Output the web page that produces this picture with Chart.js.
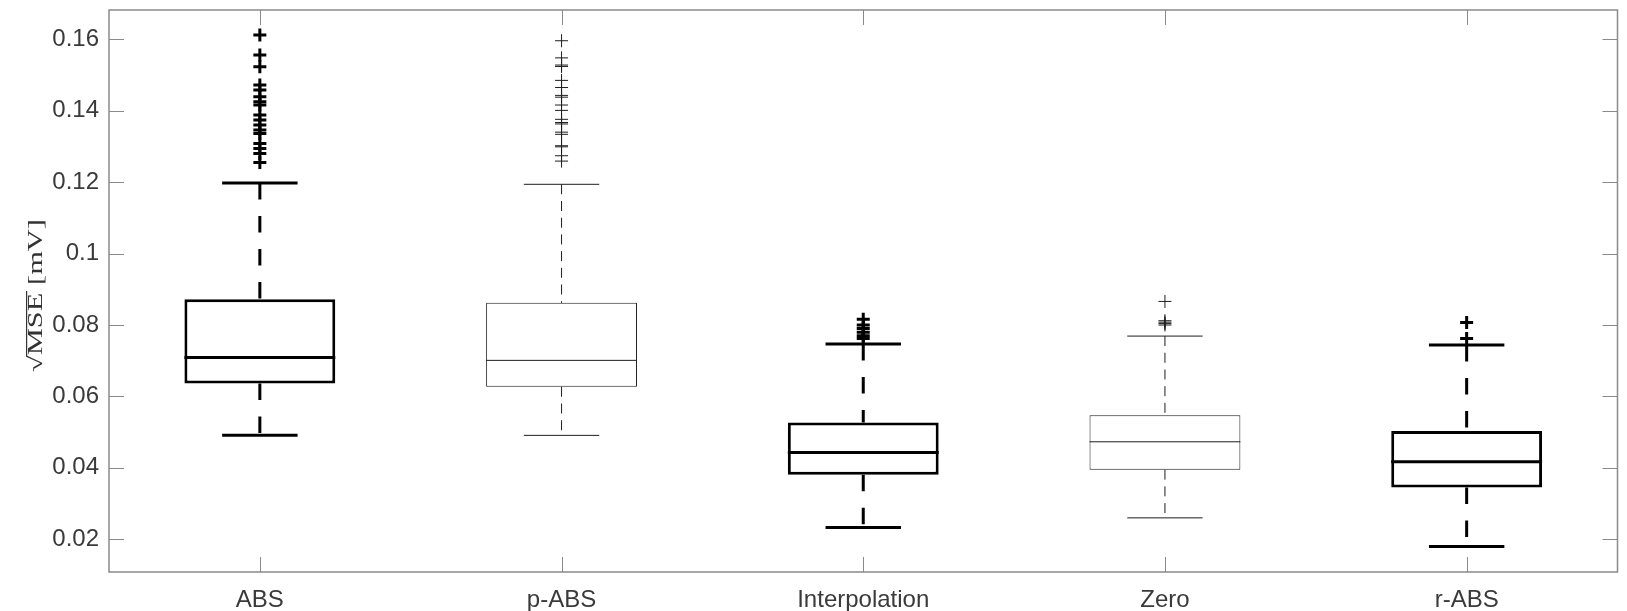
<!DOCTYPE html>
<html>
<head>
<meta charset="utf-8">
<script src="https://cdn.jsdelivr.net/npm/chart.js@4/dist/chart.umd.min.js"></script>
<style>
  html, body { margin: 0; padding: 0; background: #fff; overflow: hidden; }
  canvas { display: block; }
</style>
</head>
<body>
<canvas id="chart" width="1627" height="611"></canvas>
<script>
// Reconstruction methods compared by their RMS error
const categories = ['ABS', 'p-ABS', 'Interpolation', 'Zero', 'r-ABS'];

// Box statistics per method
const q1          = [0.0636, 0.0627, 0.0381, 0.0395, 0.0345];
const medians     = [0.0709, 0.0701, 0.0443, 0.0473, 0.0417];
const q3          = [0.0872, 0.0862, 0.0527, 0.0547, 0.0503];
const whiskerLow  = [0.0491, 0.0491, 0.0233, 0.0260, 0.0180];
const whiskerHigh = [0.1198, 0.1194, 0.0747, 0.0769, 0.0744];

// Which methods are drawn with the heavy line style
const heavy = [true, false, true, false, true];

// Outliers beyond the whiskers
const outliersABS = [0.1612, 0.1556, 0.1523, 0.1472, 0.1458, 0.1439, 0.1425, 0.1416,
                     0.1388, 0.1374, 0.1360, 0.1346, 0.1336, 0.1308, 0.1294, 0.1280, 0.1255];
const outliersPABS = [0.1596, 0.1548, 0.1528, 0.1524, 0.1485, 0.1465, 0.1443, 0.1438,
                      0.1416, 0.1401, 0.1376, 0.1367, 0.1363, 0.1340, 0.1334, 0.1302,
                      0.1299, 0.1274, 0.1259];
const outliersInterpolation = [0.0816, 0.0800, 0.0790, 0.0780, 0.0770, 0.0762];
const outliersZero = [0.0866, 0.0812, 0.0808, 0.0804, 0.0800];
const outliersRABS = [0.0807, 0.0762];

// Value axis
const yMin = 0.01084;
const yMax = 0.16821;
const yTicks = [0.02, 0.04, 0.06, 0.08, 0.1, 0.12, 0.14, 0.16];
const yTickLabels = ['0.02', '0.04', '0.06', '0.08', '0.1', '0.12', '0.14', '0.16'];

const toPoints = (label, values) => values.map(v => ({ x: label, y: v }));
const heavyOutliers = [
  ...toPoints(categories[0], outliersABS),
  ...toPoints(categories[2], outliersInterpolation),
  ...toPoints(categories[4], outliersRABS)
];
const lightOutliers = [
  ...toPoints(categories[1], outliersPABS),
  ...toPoints(categories[3], outliersZero)
];

const HEAVY_COLOR = '#000000';
const LIGHT_COLOR = '#1e1e1e';
const AXIS_COLOR = '#8a8a8a';
const TEXT_COLOR = '#3a3a3a';
const SANS = '"Liberation Sans", Arial, Helvetica, sans-serif';

function segment(ctx, x1, y1, x2, y2) {
  ctx.beginPath();
  ctx.moveTo(x1, y1);
  ctx.lineTo(x2, y2);
  ctx.stroke();
}

// Whiskers, caps and median lines of each box
const boxParts = {
  id: 'boxParts',
  beforeDatasetsDraw(chart) {
    const { ctx, scales: { x, y } } = chart;
    const step = x.getPixelForValue(1) - x.getPixelForValue(0);
    const capHalf = step * 0.125;
    categories.forEach((c, i) => {
      const cx = x.getPixelForValue(i);
      ctx.save();
      ctx.strokeStyle = heavy[i] ? HEAVY_COLOR : LIGHT_COLOR;
      ctx.lineWidth = heavy[i] ? 3 : 1;
      ctx.setLineDash(heavy[i] ? [16.5, 16.5] : [10, 6.7]);
      segment(ctx, cx, y.getPixelForValue(whiskerHigh[i]), cx, y.getPixelForValue(q3[i]));
      segment(ctx, cx, y.getPixelForValue(q1[i]), cx, y.getPixelForValue(whiskerLow[i]));
      ctx.setLineDash([]);
      const yh = y.getPixelForValue(whiskerHigh[i]);
      const yl = y.getPixelForValue(whiskerLow[i]);
      segment(ctx, cx - capHalf, yh, cx + capHalf, yh);
      segment(ctx, cx - capHalf, yl, cx + capHalf, yl);
      ctx.restore();
    });
  },
  afterDatasetsDraw(chart) {
    const { ctx, scales: { x, y } } = chart;
    const step = x.getPixelForValue(1) - x.getPixelForValue(0);
    const boxHalf = step * 0.25;
    categories.forEach((c, i) => {
      const cx = x.getPixelForValue(i);
      const ym = y.getPixelForValue(medians[i]);
      ctx.save();
      ctx.strokeStyle = heavy[i] ? HEAVY_COLOR : LIGHT_COLOR;
      ctx.lineWidth = heavy[i] ? 3 : 1;
      segment(ctx, cx - boxHalf, ym, cx + boxHalf, ym);
      ctx.restore();
    });
  }
};

// Axes box with inward tick marks on all four sides
const axesFrame = {
  id: 'axesFrame',
  afterDraw(chart) {
    const { ctx, chartArea: { left, right, top, bottom }, scales: { x, y } } = chart;
    const len = 15;
    ctx.save();
    ctx.strokeStyle = AXIS_COLOR;
    ctx.lineWidth = 1.5;
    ctx.strokeRect(left, top, right - left, bottom - top);
    ctx.lineWidth = 1;
    y.ticks.forEach((t, i) => {
      const py = Math.round(y.getPixelForTick(i)) + 0.5;
      segment(ctx, left, py, left + len, py);
      segment(ctx, right, py, right - len, py);
    });
    x.ticks.forEach((t, i) => {
      const px = Math.round(x.getPixelForTick(i)) + 0.5;
      segment(ctx, px, bottom, px, bottom - len);
      segment(ctx, px, top, px, top + len);
    });
    ctx.restore();
  }
};

// Vertical axis title: √MSE [mV] with a vinculum over MSE
const yAxisTitle = {
  id: 'yAxisTitle',
  afterDraw(chart) {
    const { ctx, chartArea } = chart;
    const parts = ['√', 'MSE', ' [mV]'];
    ctx.save();
    ctx.font = '20px "Liberation Serif", "DejaVu Serif", "Times New Roman", serif';
    ctx.fillStyle = '#333333';
    ctx.strokeStyle = '#333333';
    const widths = parts.map(p => ctx.measureText(p).width);
    const total = widths.reduce((a, b) => a + b, 0);
    const stretch = 153 / total;
    const cy = (chartArea.top + chartArea.bottom) / 2 + 4.5;
    ctx.translate(42, cy);
    ctx.rotate(-Math.PI / 2);
    ctx.scale(stretch, 1);
    ctx.textAlign = 'left';
    ctx.textBaseline = 'alphabetic';
    let pos = -total / 2;
    const starts = [];
    parts.forEach((p, i) => {
      starts.push(pos);
      ctx.fillText(p, pos, 0);
      pos += widths[i];
    });
    const rad = ctx.measureText('√');
    const barY = -rad.actualBoundingBoxAscent + 0.6;
    ctx.lineWidth = 1.2;
    segment(ctx, starts[1] - widths[0] * 0.08, barY, starts[1] + widths[1] + 1, barY);
    ctx.restore();
  }
};

new Chart(document.getElementById('chart'), {
  type: 'bar',
  data: {
    labels: categories,
    datasets: [
      {
        type: 'bar',
        data: categories.map((c, i) => [q1[i], q3[i]]),
        backgroundColor: '#ffffff',
        borderColor: heavy.map(h => h ? HEAVY_COLOR : LIGHT_COLOR),
        borderWidth: heavy.map(h => h ? 3 : 1),
        borderSkipped: false,
        barPercentage: 0.5,
        categoryPercentage: 1,
        order: 2
      },
      {
        type: 'line',
        data: heavyOutliers,
        showLine: false,
        pointStyle: 'cross',
        pointRadius: 6.5,
        pointHoverRadius: 6.5,
        pointBorderWidth: 3,
        pointBorderColor: HEAVY_COLOR,
        pointBackgroundColor: HEAVY_COLOR,
        order: 1
      },
      {
        type: 'line',
        data: lightOutliers,
        showLine: false,
        pointStyle: 'cross',
        pointRadius: 6.5,
        pointHoverRadius: 6.5,
        pointBorderWidth: 1,
        pointBorderColor: LIGHT_COLOR,
        pointBackgroundColor: LIGHT_COLOR,
        order: 1
      }
    ]
  },
  options: {
    responsive: false,
    devicePixelRatio: 1,
    animation: false,
    layout: { padding: { top: 10, right: 1, left: 0, bottom: 0 } },
    plugins: {
      legend: { display: false },
      tooltip: { enabled: false }
    },
    scales: {
      x: {
        type: 'category',
        offset: true,
        grid: { display: false, drawTicks: false },
        border: { display: false },
        ticks: {
          font: { family: SANS, size: 24 },
          color: TEXT_COLOR,
          padding: 14,
          maxRotation: 0,
          autoSkip: false
        },
        afterFit(scale) {
          scale.height = 39;
          scale.paddingLeft = 0;
          scale.paddingRight = 0;
        }
      },
      y: {
        type: 'linear',
        min: yMin,
        max: yMax,
        grid: { display: false, drawTicks: false },
        border: { display: false },
        afterBuildTicks(scale) { scale.ticks = yTicks.map(v => ({ value: v })); },
        ticks: {
          font: { family: SANS, size: 24 },
          color: TEXT_COLOR,
          padding: 10,
          callback: (v, i) => yTickLabels[i]
        },
        afterFit(scale) {
          scale.width = 109;
          scale.paddingTop = 0;
          scale.paddingBottom = 0;
        }
      }
    }
  },
  plugins: [boxParts, axesFrame, yAxisTitle]
});
</script>
</body>
</html>
